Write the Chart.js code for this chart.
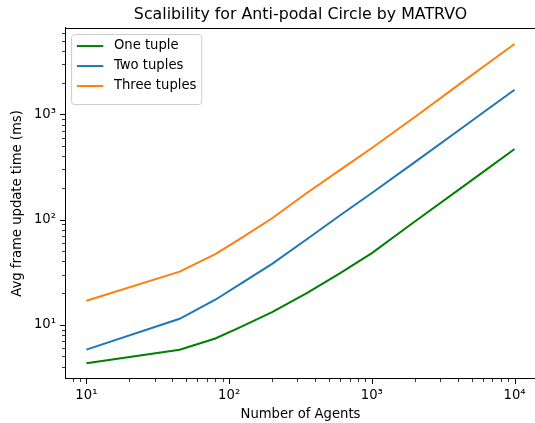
<!DOCTYPE html>
<html>
<head>
<meta charset="utf-8">
<script src="https://cdn.jsdelivr.net/npm/chart.js@4/dist/chart.umd.min.js"></script>
<style>
  html, body { margin: 0; padding: 0; overflow: hidden; background: #fff; }
</style>
</head>
<body>
<canvas id="myChart" width="600" height="423"></canvas>
<script>
// data
const agents = [10, 45, 80, 120, 200, 350, 600, 1000, 2000, 4000, 7000, 10000]
const oneTuple = [4.3, 5.8, 7.4, 9.5, 13.2, 20, 31, 48, 96, 190, 330, 470]
const twoTuples = [5.8, 11.4, 17.3, 24.5, 38, 65, 110, 179, 352, 697, 1210, 1720]
const threeTuples = [16.9, 32, 47, 66, 103, 179, 297, 480, 946, 1890, 3300, 4680]

const xMajor = [10, 100, 1000, 10000]
const xTickLabels = ['10¹', '10²', '10³', '10⁴']
const yMajor = [10, 100, 1000]
const yTickLabels = ['10¹', '10²', '10³']

const FONT = 'DejaVu Sans'

// log ticks 1..9 x 10^n between min and max
function logTicks(min, max) {
  const out = []
  for (let e = Math.floor(Math.log10(min)); e <= Math.ceil(Math.log10(max)); e++) {
    for (let m = 1; m <= 9; m++) {
      const v = m * Math.pow(10, e)
      if (v >= min && v <= max) out.push({ value: v })
    }
  }
  return out
}

// center the title over the axes, not the canvas
const titleOverAxes = {
  id: 'titleOverAxes',
  beforeDraw(chart) {
    const tb = chart.titleBlock
    if (!tb) return
    tb.left = chart.chartArea.left
    tb.right = chart.chartArea.right
  }
}

const tickMarks = {
  id: 'tickMarks',
  afterDraw(chart) {
    const ctx = chart.ctx
    const a = chart.chartArea
    ctx.save()
    ctx.strokeStyle = '#000'
    ctx.lineWidth = 1
    ctx.beginPath()
    ctx.moveTo(a.left, Math.round(a.top) + 0.5)
    ctx.lineTo(a.right, Math.round(a.top) + 0.5)
    ctx.moveTo(Math.round(a.right) - 0.5, a.top)
    ctx.lineTo(Math.round(a.right) - 0.5, a.bottom)
    ctx.stroke()

    const xs = chart.scales.x
    xs.ticks.forEach(t => {
      const major = xMajor.includes(t.value)
      const px = Math.round(xs.getPixelForValue(t.value)) + 0.5
      ctx.lineWidth = major ? 1 : 0.8
      ctx.beginPath()
      ctx.moveTo(px, a.bottom)
      ctx.lineTo(px, a.bottom + (major ? 5 : 3))
      ctx.stroke()
    })
    const ys = chart.scales.y
    ys.ticks.forEach(t => {
      const major = yMajor.includes(t.value)
      const py = Math.round(ys.getPixelForValue(t.value)) + 0.5
      ctx.lineWidth = major ? 1 : 0.8
      ctx.beginPath()
      ctx.moveTo(a.left, py)
      ctx.lineTo(a.left - (major ? 5 : 3), py)
      ctx.stroke()
    })
    ctx.restore()
  }
}

// legend box in the upper left corner, like matplotlib
const boxLegend = {
  id: 'boxLegend',
  afterDatasetsDraw(chart) {
    const ctx = chart.ctx
    const a = chart.chartArea
    const sets = chart.data.datasets
    ctx.save()
    ctx.font = '13.2px "' + FONT + '"'
    const textW = Math.max(...sets.map(d => ctx.measureText(d.label).width))
    const left = a.left + 6.6
    const top = a.top + 6.6
    const w = 5.3 + 26.4 + 10.6 + textW + 5.3
    const h = 70
    const r = 3
    ctx.beginPath()
    ctx.moveTo(left + r, top)
    ctx.arcTo(left + w, top, left + w, top + h, r)
    ctx.arcTo(left + w, top + h, left, top + h, r)
    ctx.arcTo(left, top + h, left, top, r)
    ctx.arcTo(left, top, left + w, top, r)
    ctx.closePath()
    ctx.fillStyle = 'rgba(255,255,255,0.8)'
    ctx.fill()
    ctx.strokeStyle = '#cccccc'
    ctx.lineWidth = 1
    ctx.stroke()

    sets.forEach((d, i) => {
      const y = top + 11.5 + i * 20
      ctx.strokeStyle = d.borderColor
      ctx.lineWidth = 2
      ctx.beginPath()
      ctx.moveTo(left + 5.3, y)
      ctx.lineTo(left + 5.3 + 26.4, y)
      ctx.stroke()
      ctx.fillStyle = '#000'
      ctx.textBaseline = 'middle'
      ctx.textAlign = 'left'
      ctx.fillText(d.label, left + 5.3 + 26.4 + 10.6, y)
    })
    ctx.restore()
  }
}

const pts = vals => agents.map((a, i) => ({ x: a, y: vals[i] }))

const ctx = document.getElementById('myChart')
const myChart = new Chart(ctx, {
  type: 'line',
  data: {
    datasets: [
      { label: 'One tuple', data: pts(oneTuple), borderColor: '#008000' },
      { label: 'Two tuples', data: pts(twoTuples), borderColor: '#1f77b4' },
      { label: 'Three tuples', data: pts(threeTuples), borderColor: '#ff7f0e' }
    ]
  },
  options: {
    responsive: false,
    animation: false,
    devicePixelRatio: 1,
    layout: { padding: { left: 0, top: 0, right: 64, bottom: 0 } },
    elements: {
      line: { borderWidth: 2, tension: 0, fill: false },
      point: { radius: 0, hoverRadius: 0 }
    },
    plugins: {
      legend: { display: false },
      tooltip: { enabled: false },
      title: {
        display: true,
        text: 'Scalibility for Anti-podal Circle by MATRVO',
        color: '#000',
        font: { family: FONT, size: 15.8, weight: 'normal' },
        padding: { top: 5, bottom: 4 }
      }
    },
    scales: {
      x: {
        type: 'logarithmic',
        min: 7.08,
        max: 14125,
        grid: { display: false, drawTicks: false },
        border: { display: true, color: '#000', width: 1 },
        afterBuildTicks: s => { s.ticks = logTicks(s.min, s.max) },
        afterFit: s => { s.height = 44 },
        ticks: {
          autoSkip: false,
          maxRotation: 0,
          color: '#000',
          padding: 9,
          font: { family: FONT, size: 13.2 },
          callback: v => {
            const i = xMajor.indexOf(v)
            return i >= 0 ? xTickLabels[i] : ''
          }
        },
        title: {
          display: true,
          text: 'Number of Agents',
          color: '#000',
          font: { family: FONT, size: 13.2 },
          padding: { top: 0, bottom: 1 }
        }
      },
      y: {
        type: 'logarithmic',
        min: 3.05,
        max: 6650,
        grid: { display: false, drawTicks: false },
        border: { display: true, color: '#000', width: 1 },
        afterBuildTicks: s => { s.ticks = logTicks(s.min, s.max) },
        afterFit: s => { s.width = 65 },
        ticks: {
          autoSkip: false,
          color: '#000',
          padding: 9,
          font: { family: FONT, size: 13.2 },
          callback: v => {
            const i = yMajor.indexOf(v)
            return i >= 0 ? yTickLabels[i] : ''
          }
        },
        title: {
          display: true,
          text: 'Avg frame update time (ms)',
          color: '#000',
          font: { family: FONT, size: 13.2 },
          padding: { top: 10, bottom: 0 }
        }
      }
    }
  },
  plugins: [titleOverAxes, tickMarks, boxLegend]
})
</script>
</body>
</html>
